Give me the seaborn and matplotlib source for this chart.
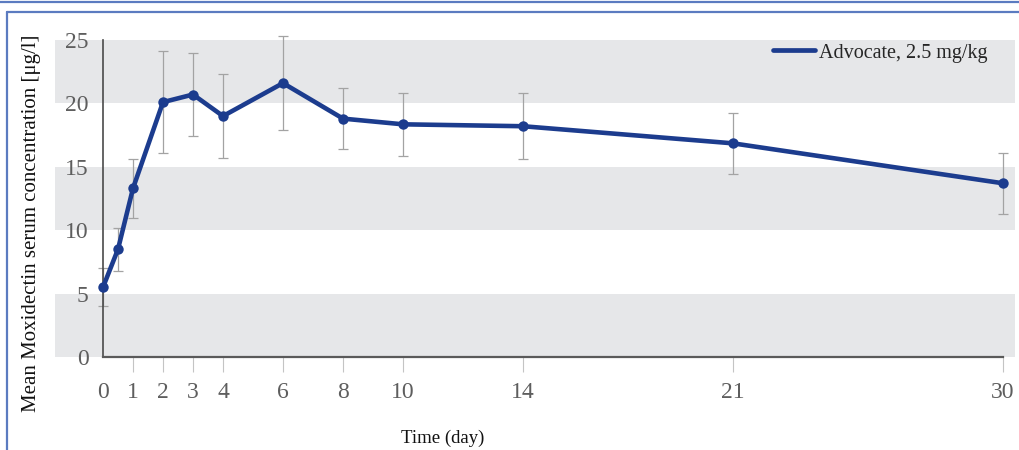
import matplotlib
matplotlib.use("Agg")
import matplotlib.pyplot as plt
import seaborn as sns
import pandas as pd
from matplotlib.lines import Line2D

# Mean moxidectin serum concentration after Advocate 2.5 mg/kg
days = [0, 0.5, 1, 2, 3, 4, 6, 8, 10, 14, 21, 30]
mean_conc = [5.5, 8.5, 13.3, 20.1, 20.7, 19.0, 21.6, 18.8, 18.35, 18.2, 16.85, 13.7]
sd_conc = [1.5, 1.7, 2.3, 4.0, 3.3, 3.3, 3.7, 2.4, 2.5, 2.6, 2.4, 2.4]

x_ticks = [0, 1, 2, 3, 4, 6, 8, 10, 14, 21, 30]
y_ticks = [0, 5, 10, 15, 20, 25]
series_label = "Advocate, 2.5 mg/kg"
x_label = "Time (day)"
y_label = "Mean Moxidectin serum concentration [μg/l]"

df = pd.DataFrame({"day": days, "conc": mean_conc, "sd": sd_conc})

sns.set_theme(style="white")
plt.rcParams["font.family"] = ["Liberation Serif", "DejaVu Serif"]

W, H = 1019, 450
fig = plt.figure(figsize=(W / 100, H / 100), dpi=100)
fig.patch.set_facecolor("white")
ax = fig.add_axes([103 / W, 93 / H, 900 / W, 317 / H])
ax.set_facecolor("none")
ax.set_xlim(0, 30)
ax.set_ylim(0, 25)

# alternating grey bands behind the plot
band_color = "#e6e7e9"
for lo, hi in [(0, 5), (10, 15), (20, 25)]:
    band = ax.axhspan(lo, hi, xmin=-48 / 900, xmax=912 / 900,
                      color=band_color, lw=0, zorder=0)
    band.set_clip_on(False)

line_color = "#1c3c8e"
ax.errorbar(df["day"], df["conc"], yerr=df["sd"], fmt="none",
            ecolor="#a3a3a3", elinewidth=0.9, capsize=3.5, capthick=0.9,
            zorder=2, clip_on=False)
sns.lineplot(data=df, x="day", y="conc", ax=ax, color=line_color, lw=3.3,
             marker="o", markersize=7.5, markeredgewidth=0, zorder=3,
             legend=False, clip_on=False)

ax.set_xticks(x_ticks)
ax.set_xticklabels([str(t) for t in x_ticks])
ax.set_yticks(y_ticks)
ax.set_yticklabels([str(t) for t in y_ticks])
ax.set_xlabel("")
ax.set_ylabel("")

ax.tick_params(axis="y", length=0, pad=10.5, labelcolor="#5e5e5e", labelsize=17)
ax.tick_params(axis="x", length=11, width=0.8, color="#c4c4c4", pad=7,
               direction="out", labelcolor="#5e5e5e", labelsize=17, bottom=True)
ax.xaxis.get_major_ticks()[0].tick1line.set_visible(False)

for side in ["top", "right"]:
    ax.spines[side].set_visible(False)
ax.spines["left"].set_color("#4a4a4a")
ax.spines["left"].set_linewidth(1.2)
ax.spines["bottom"].set_color("#5a5a5a")
ax.spines["bottom"].set_linewidth(1.6)

handle = Line2D([], [], color=line_color, lw=3.4)
ax.legend(handles=[handle], labels=[series_label], loc="center left",
          bbox_to_anchor=(773 / W, 1 - 53 / H), bbox_transform=fig.transFigure,
          frameon=False, handlelength=2.1, handletextpad=0.2, borderpad=0,
          borderaxespad=0, fontsize=14.5)

fig.text(32 / W, 1 - 223 / H, y_label, rotation=90, ha="center", va="center",
         fontsize=15, color="#111111")
fig.text(443 / W, 1 - 438 / H, x_label, ha="center", va="center",
         fontsize=13.5, color="#111111")

# blue frame lines around the figure
frame_color = "#5b7bc0"
fig.add_artist(Line2D([0, 1], [1 - 2 / H, 1 - 2 / H], transform=fig.transFigure,
                      color=frame_color, lw=1.6))
fig.add_artist(Line2D([7 / W, 1], [1 - 12 / H, 1 - 12 / H], transform=fig.transFigure,
                      color=frame_color, lw=1.6))
fig.add_artist(Line2D([7 / W, 7 / W], [0, 1 - 12 / H], transform=fig.transFigure,
                      color=frame_color, lw=1.6))

fig.savefig("out.png", dpi=100)
